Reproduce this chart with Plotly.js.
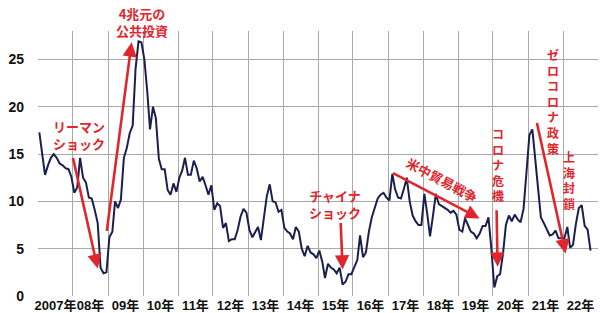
<!DOCTYPE html>
<html>
<head>
<meta charset="utf-8">
<script src="https://cdn.plot.ly/plotly-3.0.1.min.js"></script>
<style>
  html, body { margin: 0; padding: 0; background: #fff; }
  #chart { width: 600px; height: 313px; }
</style>
</head>
<body>
<div id="chart"></div>
<script>
// Monthly values (Jan of each year onward)
const years = [2007, 2008, 2009, 2010, 2011, 2012, 2013, 2014, 2015, 2016, 2017, 2018, 2019, 2020, 2021, 2022];
const v2007 = [17.3, 15.0, 12.8, 13.8, 14.6, 15.0, 14.6, 14.0, 13.8, 13.5, 13.4, 12.6];
const v2008 = [10.9, 11.5, 14.6, 12.5, 12.0, 10.4, 10.3, 9.1, 7.7, 3.0, 2.4, 2.5];
const v2009 = [6.2, 6.8, 10.0, 9.3, 10.2, 14.6, 15.6, 17.2, 18.0, 24.0, 26.9, 26.8];
const v2010 = [25.0, 21.5, 17.6, 20.0, 18.8, 14.5, 13.4, 13.4, 11.2, 10.7, 11.9, 11.0];
const v2011 = [12.5, 13.3, 14.6, 12.8, 12.8, 14.3, 13.5, 12.1, 12.6, 11.7, 10.7, 11.7];
const v2012 = [9.1, 9.8, 9.5, 7.2, 7.7, 5.8, 6.0, 6.0, 7.0, 8.4, 9.2, 8.8];
const v2013 = [7.0, 6.2, 6.8, 7.3, 5.9, 8.3, 10.5, 11.8, 10.0, 9.9, 8.9, 9.1];
const v2014 = [7.2, 6.8, 6.6, 6.0, 7.3, 6.8, 5.0, 4.2, 5.3, 4.6, 4.4, 4.0];
const v2015 = [4.8, 3.6, 1.9, 3.4, 3.0, 2.8, 2.4, 3.0, 1.2, 1.5, 2.3, 2.3];
const v2016 = [3.1, 3.8, 6.4, 4.1, 4.6, 6.8, 8.3, 9.4, 10.3, 10.7, 10.9, 10.4];
const v2017 = [10.1, 12.9, 11.3, 10.4, 10.3, 11.3, 12.5, 10.0, 8.5, 7.9, 7.5, 7.5];
const v2018 = [10.8, 8.6, 6.3, 8.5, 10.8, 9.7, 9.5, 9.3, 9.1, 8.8, 9.0, 8.6];
const v2019 = [7.0, 6.8, 8.2, 7.5, 6.8, 6.6, 6.1, 6.6, 7.4, 7.4, 8.3, 5.0];
const v2020 = [0.9, 2.1, 2.3, 4.5, 7.5, 8.5, 7.9, 8.6, 8.1, 7.8, 9.2, 13.0];
const v2021 = [17.0, 17.6, 14.5, 11.5, 8.3, 7.7, 7.0, 6.4, 6.5, 6.9, 6.1, 6.1];
const v2022 = [6.1, 7.3, 5.1, 5.4, 7.6, 9.3, 9.6, 7.4, 7.0, 4.8];
const yearly = [v2007, v2008, v2009, v2010, v2011, v2012, v2013, v2014, v2015, v2016, v2017, v2018, v2019, v2020, v2021, v2022];

const dates = [];
const values = [];
years.forEach((yr, k) => {
  yearly[k].forEach((v, m) => {
    dates.push(yr + '-' + String(m + 1).padStart(2, '0') + '-15');
    values.push(v);
  });
});

const RED = '#e0262d';
const JP = 'Liberation Sans, Arial, Noto Sans CJK JP, sans-serif';

function arrow(x, y, ax, ay) {
  return { x: x, y: y, xref: 'x', yref: 'y', ax: ax, ay: ay, text: '', showarrow: true,
           arrowhead: 2, arrowsize: 1.1, arrowwidth: 2.6, arrowcolor: RED, standoff: 0 };
}
function label(x, y, text, size, angle, yref) {
  return { x: x, y: y, xref: 'x', yref: yref || 'y', text: '<b>' + text + '</b>', showarrow: false,
           textangle: angle || 0, xanchor: 'center', yanchor: 'middle',
           font: { family: 'Noto Sans CJK JP, sans-serif', size: size, color: RED } };
}

const annotations = [
  arrow('2008-09-15', 2.9, -25, -112),
  arrow('2009-09-04', 26.8, -25, 190),
  arrow('2015-09-15', 2.8, -2, -48),
  arrow('2019-08-14', 8.2, -88, -46),
  arrow('2020-02-18', 3.1, -1, -58),
  arrow('2022-01-28', 4.5, -29, -132),
  label('2009-12-17', 1.034, '4兆元の<br>公共投資', 13, 0, 'paper'),
  label('2008-02-28', 17.0, 'リーマン<br>ショック', 13),
  label('2015-06-24', 9.7, 'チャイナ<br>ショック', 13),
  label('2018-07-13', 12.3, '米中貿易戦争', 13, 28),
  label('2020-02-18', 13.9, 'コ<br>ロ<br>ナ<br>危<br>機', 12),
  label('2021-09-19', 20.6, 'ゼ<br>ロ<br>コ<br>ロ<br>ナ<br>政<br>策', 12),
  label('2022-02-28', 12.3, '上<br>海<br>封<br>鎖', 12)
];

const trace = {
  x: dates, y: values, type: 'scatter', mode: 'lines',
  line: { color: '#1b1f4d', width: 2 }, hoverinfo: 'skip'
};

const layout = {
  width: 600, height: 313,
  margin: { l: 38, r: 2, t: 31, b: 17, pad: 0 },
  paper_bgcolor: '#ffffff', plot_bgcolor: '#ffffff',
  showlegend: false,
  xaxis: {
    type: 'date', range: ['2007-01-01', '2023-01-01'],
    tick0: '2007-01-01', dtick: 'M12', ticklabelmode: 'period',
    tickformat: '%y年', labelalias: { '07年': '2007年' }, tickangle: 0,
    showgrid: true, gridcolor: '#a9a9a9', gridwidth: 1,
    zeroline: false, showline: false, ticks: '',
    tickfont: { family: JP, size: 13, color: '#111111', weight: 'bold' }
  },
  yaxis: {
    range: [0, 28], tick0: 0, dtick: 5,
    showgrid: true, gridcolor: '#a9a9a9', gridwidth: 1,
    zeroline: false, showline: false, ticks: '', ticklabelstandoff: 13,
    tickfont: { family: JP, size: 14, color: '#111111', weight: 'bold' }
  },
  annotations: annotations
};

Plotly.newPlot('chart', [trace], layout, { displayModeBar: false, staticPlot: true });
</script>
</body>
</html>
